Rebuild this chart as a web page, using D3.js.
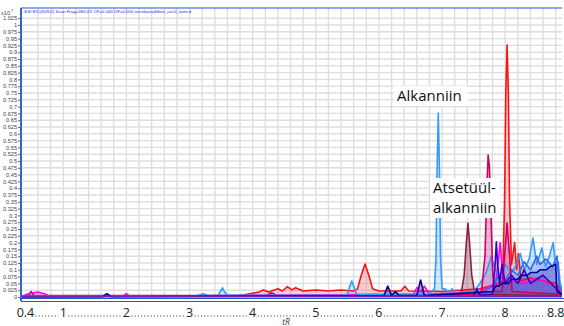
<!DOCTYPE html>
<html><head><meta charset="utf-8">
<script src="https://cdn.jsdelivr.net/npm/d3@7"></script>
<style>body{margin:0;background:#fff}svg{display:block}</style>
</head><body><svg id="c" width="564" height="326"></svg>
<script>
// ---- data (minutes, intensity x10^7) ----
const xTickLabels = ["0.4","1","2","3","4","5","6","7","8","8.8"];
const xTickValues = [0.4,1,2,3,4,5,6,7,8,8.8];
const yTickValues = [0,0.025,0.05,0.075,0.1,0.125,0.15,0.175,0.2,0.225,0.25,0.275,0.3,0.325,0.35,0.375,0.4,0.425,0.45,0.475,0.5,0.525,0.55,0.575,0.6,0.625,0.65,0.675,0.7,0.725,0.75,0.775,0.8,0.825,0.85,0.875,0.9,0.925,0.95,0.975,1,1.025];
const xGrid = [0.6,0.8,1,1.2,1.4,1.6,1.8,2,2.2,2.4,2.6,2.8,3,3.2,3.4,3.6,3.8,4,4.2,4.4,4.6,4.8,5,5.2,5.4,5.6,5.8,6,6.2,6.4,6.6,6.8,7,7.2,7.4,7.6,7.8,8,8.2,8.4,8.6,8.8];

const lightBlue = [[0.35,0.004],[3.1,0.004],[3.22,0.012],[3.3,0.005],[3.45,0.006],[3.49,0.02],[3.52,0.034],[3.55,0.02],[3.6,0.006],[5.4,0.006],[5.5,0.01],[5.54,0.04],[5.57,0.059],[5.6,0.04],[5.65,0.01],[6.8,0.01],[6.88,0.03],[6.905,0.15],[6.92,0.45],[6.94,0.676],[6.96,0.45],[6.975,0.15],[7.0,0.03],[7.05,0.03],[7.1,0.015],[7.16,0.03],[7.22,0.012],[7.5,0.02],[7.6,0.05],[7.7,0.09],[7.78,0.15],[7.84,0.1],[7.92,0.08],[8.0,0.12],[8.1,0.09],[8.18,0.12],[8.24,0.16],[8.3,0.1],[8.38,0.14],[8.44,0.217],[8.5,0.12],[8.58,0.18],[8.64,0.11],[8.7,0.15],[8.76,0.2],[8.8,0.12],[8.84,0.13],[8.87,0.05],[8.9,0.03]];
const midBlue = [[7.6,0.01],[7.8,0.04],[7.9,0.08],[8.0,0.06],[8.1,0.1],[8.2,0.08],[8.3,0.13],[8.4,0.1],[8.5,0.15],[8.55,0.12],[8.65,0.14],[8.75,0.11],[8.82,0.15],[8.86,0.04],[8.9,0.02]];
const red = [[0.35,0.003],[3.8,0.005],[3.95,0.012],[4.1,0.018],[4.17,0.026],[4.25,0.018],[4.4,0.03],[4.47,0.022],[4.55,0.038],[4.62,0.026],[4.68,0.034],[4.8,0.022],[5.0,0.026],[5.2,0.022],[5.4,0.026],[5.6,0.022],[5.66,0.03],[5.72,0.08],[5.78,0.121],[5.84,0.08],[5.9,0.03],[6.0,0.022],[6.35,0.022],[6.41,0.04],[6.47,0.022],[7.0,0.02],[7.6,0.03],[7.9,0.05],[7.96,0.06],[7.99,0.35],[8.01,0.75],[8.03,0.926],[8.05,0.75],[8.07,0.35],[8.1,0.12],[8.15,0.2],[8.18,0.1],[8.21,0.16],[8.25,0.06],[8.4,0.07],[8.6,0.06],[8.8,0.05],[8.9,0.02]];
const crimson = [[0.35,0.002],[7.0,0.005],[7.62,0.01],[7.68,0.15],[7.71,0.4],[7.73,0.522],[7.75,0.48],[7.77,0.35],[7.8,0.1],[7.83,0.02],[7.95,0.02],[7.99,0.15],[8.03,0.272],[8.07,0.15],[8.11,0.02],[8.9,0.01]];
const brown = [[0.35,0.003],[0.44,0.005],[0.49,0.02],[0.54,0.005],[4.2,0.005],[4.3,0.015],[4.4,0.005],[7.3,0.01],[7.35,0.08],[7.385,0.2],[7.41,0.272],[7.435,0.2],[7.47,0.08],[7.52,0.01],[8.9,0.005]];
const magenta = [[0.35,0.002],[0.42,0.01],[0.5,0.015],[0.6,0.018],[0.7,0.012],[0.78,0.003],[1.95,0.003],[2.0,0.012],[2.05,0.003],[6.55,0.01],[6.6,0.035],[6.66,0.02],[6.72,0.04],[6.8,0.01],[7.6,0.02],[7.85,0.05],[7.9,0.15],[7.92,0.2],[7.95,0.12],[7.98,0.05],[8.1,0.06],[8.3,0.05],[8.5,0.07],[8.7,0.05],[8.9,0.02]];
const navy = [[0.35,0.0],[1.62,0.001],[1.69,0.012],[1.76,0.001],[6.08,0.005],[6.14,0.04],[6.2,0.005],[6.26,0.02],[6.32,0.005],[6.6,0.005],[6.66,0.0625],[6.72,0.005],[7.8,0.02],[7.85,0.04],[7.9,0.04],[7.95,0.05],[8.05,0.05],[8.1,0.065],[8.2,0.065],[8.25,0.08],[8.35,0.08],[8.4,0.09],[8.5,0.09],[8.55,0.1],[8.65,0.1],[8.7,0.11],[8.8,0.12],[8.82,0.02],[8.9,0.01]];
const violet = [[7.5,0.005],[7.55,0.03],[7.6,0.005],[7.8,0.01],[7.84,0.12],[7.86,0.203],[7.88,0.12],[7.91,0.05],[7.95,0.12],[8.0,0.05],[8.1,0.08],[8.2,0.05],[8.3,0.1],[8.4,0.05],[8.6,0.08],[8.9,0.01]];

const seriesList = [
  {data: red, stroke:"#ff1010", fill:"#f07080"},
  {data: brown, stroke:"#8b2040", fill:"#8b3050"},
  {data: magenta, stroke:"#ff00ee", fill:"#ff66ee"},
  {data: lightBlue, stroke:"#3399ff", fill:"#80bfff"},
  {data: midBlue, stroke:"#3366ee", fill:"#6688ff"},
  {data: crimson, stroke:"#cc0066", fill:"#cc3388"},
  {data: violet, stroke:"#3300cc", fill:"#6644dd"},
  {data: navy, stroke:"#000099", fill:"#3333aa"}
];

const titleText = "-ESI EIC(609-0) Scan Frag=380.0V CF=0.000 DF=0.000 varvikaeadStan_uus1_kom.d";

// ---- layout ----
const svg = d3.select("#c");
const L = 21, R = 562, T = 8, B = 297;
const x = d3.scaleLinear().domain([0.33, 8.9]).range([L, R]);
const y = d3.scaleLinear().domain([0, 1]).range([B, 25]);

// grid
svg.append("g").selectAll("line").data(yTickValues.filter(v=>v>0)).join("line")
  .attr("x1", L).attr("x2", R).attr("y1", d=>y(d)).attr("y2", d=>y(d))
  .attr("stroke", "#dedede").attr("stroke-width", 1.4);
svg.append("g").selectAll("line").data(xGrid).join("line")
  .attr("x1", d=>x(d)).attr("x2", d=>x(d)).attr("y1", T).attr("y2", B)
  .attr("stroke", "#dedede").attr("stroke-width", 1.4);

// series
svg.append("clipPath").attr("id","pc").append("rect")
  .attr("x", L).attr("y", T).attr("width", R-L).attr("height", B-T+1);
const plot = svg.append("g").attr("clip-path","url(#pc)");
const area = d3.area().x(d=>x(d[0])).y0(y(0)).y1(d=>y(d[1]));
const line = d3.line().x(d=>x(d[0])).y(d=>y(d[1]));
seriesList.forEach(s=>{
  plot.append("path").attr("d", area(s.data)).attr("fill", s.fill).attr("fill-opacity", 0.35);
});
seriesList.forEach(s=>{
  plot.append("path").attr("d", line(s.data)).attr("fill","none")
    .attr("stroke", s.stroke).attr("stroke-width", 1.6).attr("stroke-linejoin","round");
});
plot.append("line").attr("x1",L).attr("x2",R).attr("y1",y(0)-0.5).attr("y2",y(0)-0.5)
  .attr("stroke","#7722aa").attr("stroke-width",2);

// frame
svg.append("line").attr("x1",L).attr("x2",R).attr("y1",T).attr("y2",T).attr("stroke","#2255dd").attr("stroke-width",1.2);
svg.append("line").attr("x1",L).attr("x2",L).attr("y1",T).attr("y2",301).attr("stroke","#3366cc").attr("stroke-width",2);
svg.append("line").attr("x1",L).attr("x2",R+2).attr("y1",298.5).attr("y2",298.5).attr("stroke","#2255dd").attr("stroke-width",1.2);
svg.append("line").attr("x1",L).attr("x2",R+2).attr("y1",301.5).attr("y2",301.5).attr("stroke","#2255dd").attr("stroke-width",1.2);

svg.append("text").attr("x", L+2).attr("y", T+5).attr("font-family","Liberation Sans, Arial")
  .attr("font-size", 4.4).attr("fill","#2233cc").text(titleText);

// y axis
const yAxis = d3.axisLeft(y).tickValues(yTickValues).tickSize(3).tickPadding(1)
  .tickFormat(d=>String(+d.toFixed(3)));
const ga = svg.append("g").attr("transform",`translate(${L},0)`).call(yAxis);
ga.select(".domain").remove();
ga.selectAll("text").attr("font-family","Liberation Sans, Arial").attr("font-size",5.6).attr("fill","#444");
ga.selectAll("line").attr("stroke","#666");
svg.append("text").attr("x",1).attr("y",15).attr("font-family","Liberation Sans, Arial")
  .attr("font-size",5.6).attr("fill","#444").text("x10");
svg.append("text").attr("x",11).attr("y",12).attr("font-family","Liberation Sans, Arial")
  .attr("font-size",4).attr("fill","#444").text("7");

// x axis labels with dotted leaders
const xl = svg.append("g");
const xTicks = xTickValues.map((v,i)=>({v, label:xTickLabels[i]}));
xl.selectAll("text").data(xTicks).join("text")
  .attr("x", d=>x(d.v)).attr("y", 317).attr("text-anchor","middle")
  .attr("font-family","Open Sans, Liberation Sans").attr("font-size",12.5).attr("fill","#222")
  .text(d=>d.label);
for (let i=0;i<xTicks.length-1;i++){
  const a = x(xTicks[i].v) + (xTicks[i].label.length>1?10:5);
  const b = x(xTicks[i+1].v) - (xTicks[i+1].label.length>1?10:5);
  xl.append("line").attr("x1",a).attr("x2",b).attr("y1",316).attr("y2",316)
    .attr("stroke","#333").attr("stroke-width",1).attr("stroke-dasharray","1,2.2");
}
svg.append("text").attr("x",286).attr("y",325).attr("text-anchor","middle")
  .attr("font-family","Open Sans").attr("font-style","italic").attr("font-size",8.5).attr("fill","#333").text("tR");

// annotations
function note(lines, x0, y0, w, h){
  svg.append("rect").attr("x",x0).attr("y",y0).attr("width",w).attr("height",h).attr("fill","#fff");
  lines.forEach((t,i)=>svg.append("text").attr("x",x0+3).attr("y",y0+15+i*20)
    .attr("font-family","Open Sans").attr("font-size",15).attr("fill","#111").text(t));
}
note(["Alkanniin"], 394, 86, 74, 20);
note(["Atsetüül-","alkanniin"], 430, 178, 70, 40);
</script></body></html>
